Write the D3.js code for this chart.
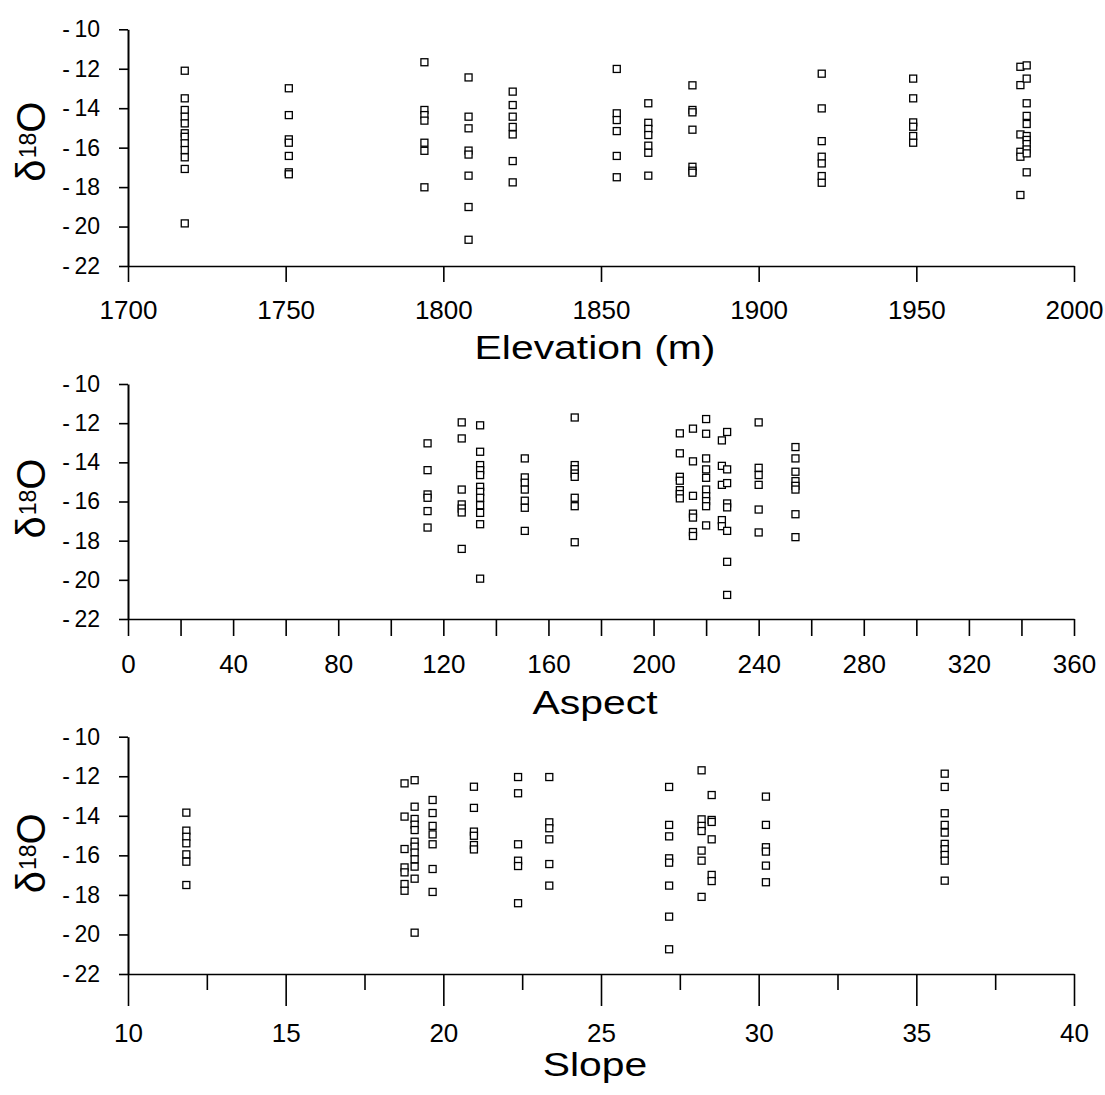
<!DOCTYPE html>
<html>
<head>
<meta charset="utf-8">
<script src="https://cdn.jsdelivr.net/npm/d3@7"></script>
<style>
  html, body { margin: 0; padding: 0; background: #fff; }
  svg { display: block; }
  text { font-family: "Liberation Sans", Arial, sans-serif; fill: #000; }
</style>
</head>
<body>
<svg id="chart" width="1105" height="1095"></svg>
<script>
// δ18O values grouped by sampling site, one inner list per site.
const ELEVATION_SITES = [1718, 1751, 1794, 1808, 1822, 1855, 1865, 1879, 1920, 1949, 1983, 1985];
const ELEVATION_D18O = [
  [-12.10, -13.50, -14.09, -14.43, -14.77, -15.27, -15.45, -15.78, -16.12, -16.49, -17.08, -19.84],
  [-12.99, -14.35, -15.58, -15.75, -16.42, -17.25, -17.35],
  [-11.67, -14.09, -14.35, -14.63, -15.75, -16.16, -18.01],
  [-12.44, -14.43, -15.02, -16.15, -16.35, -17.42, -19.01, -20.67],
  [-13.16, -13.84, -14.43, -14.95, -15.33, -16.68, -17.76],
  [-12.01, -14.26, -14.60, -15.16, -16.42, -17.50],
  [-13.75, -14.74, -15.05, -15.36, -15.90, -16.26, -17.42],
  [-12.84, -14.09, -14.21, -15.09, -16.97, -17.17, -17.27],
  [-12.25, -14.01, -15.67, -16.46, -16.80, -17.44, -17.78],
  [-12.50, -13.50, -14.72, -14.94, -15.41, -15.75],
  [-11.90, -12.83, -15.33, -16.21, -16.46, -18.40],
  [-11.83, -12.50, -13.75, -14.39, -14.80, -15.41, -15.61, -15.82, -16.09, -16.29, -17.25]
];

const ASPECT_SITES = [114, 127, 134, 151, 170, 210, 215, 220, 226, 228, 240, 254];
const ASPECT_D18O = [
  [-13.03, -14.40, -15.64, -15.81, -16.49, -17.33],
  [-11.96, -12.78, -15.39, -16.15, -16.36, -16.56, -18.42],
  [-12.11, -13.46, -14.14, -14.40, -14.65, -15.25, -15.51, -15.81, -16.19, -16.58, -17.16, -19.94],
  [-13.80, -14.77, -15.04, -15.39, -15.96, -16.32, -17.50],
  [-11.71, -14.14, -14.35, -14.57, -14.74, -15.81, -16.24, -18.08],
  [-12.52, -13.54, -14.74, -14.94, -15.42, -15.62, -15.84],
  [-12.28, -13.95, -15.71, -16.62, -16.82, -17.56, -17.76],
  [-11.79, -12.54, -13.80, -14.36, -14.79, -15.39, -15.73, -15.98, -16.24, -17.22],
  [-12.88, -14.18, -15.15, -16.95, -17.26],
  [-12.45, -14.36, -15.06, -16.10, -16.30, -17.50, -19.08, -20.77],
  [-11.96, -14.28, -14.65, -15.15, -16.41, -17.58],
  [-13.22, -13.80, -14.48, -14.96, -15.20, -15.39, -16.65, -17.82]
];

const SLOPE_SITES = [11.85, 18.77, 19.09, 19.66, 20.97, 22.37, 23.36, 27.16, 28.19, 28.51, 30.23, 35.90];
const SLOPE_D18O = [
  [-13.84, -14.75, -15.06, -15.39, -15.95, -16.32, -17.50],
  [-12.36, -14.04, -15.68, -16.61, -16.86, -17.45, -17.79],
  [-12.20, -13.54, -14.16, -14.45, -14.72, -15.31, -15.56, -15.86, -16.20, -16.57, -17.18, -19.91],
  [-13.20, -13.86, -14.51, -14.94, -15.44, -16.69, -17.85],
  [-12.53, -13.60, -14.80, -15.01, -15.48, -15.70],
  [-12.04, -12.86, -15.44, -16.27, -16.54, -18.42],
  [-12.04, -14.33, -14.63, -15.19, -16.44, -17.53],
  [-12.54, -14.46, -15.04, -16.15, -16.37, -17.53, -19.10, -20.75],
  [-11.70, -14.18, -14.51, -14.77, -15.76, -16.27, -18.10],
  [-12.95, -14.21, -14.31, -15.19, -16.99, -17.30],
  [-13.03, -14.46, -15.59, -15.81, -16.52, -17.36],
  [-11.87, -12.54, -13.87, -14.46, -14.85, -15.42, -15.69, -15.98, -16.27, -17.28]
];

// Tick values
const Y_TICKS = [-22, -20, -18, -16, -14, -12, -10];
const ELEVATION_TICKS = [1700, 1750, 1800, 1850, 1900, 1950, 2000];
const ASPECT_TICKS = [0, 20, 40, 60, 80, 100, 120, 140, 160, 180, 200, 220, 240, 260, 280, 300, 320, 340, 360];
const ASPECT_LABELLED = [0, 40, 80, 120, 160, 200, 240, 280, 320, 360];
const SLOPE_MAJOR_TICKS = [10, 15, 20, 25, 30, 35, 40];
const SLOPE_MINOR_TICKS = [12.5, 17.5, 22.5, 27.5, 32.5, 37.5];

const svg = d3.select("#chart");
const X_RANGE = [128, 1074];

const panels = [
  { title: "Elevation (m)", sites: ELEVATION_SITES, values: ELEVATION_D18O, domain: [1700, 2000],
    top: 29.3, bottom: 266, titleY: 359, titleDy: -6, pad: 19,
    major: ELEVATION_TICKS, majorLen: 16, labelled: ELEVATION_TICKS, minor: null },
  { title: "Aspect", sites: ASPECT_SITES, values: ASPECT_D18O, domain: [0, 360],
    top: 384, bottom: 619, titleY: 714, titleDy: -3, pad: 19,
    major: ASPECT_TICKS, majorLen: 17, labelled: ASPECT_LABELLED, minor: null },
  { title: "Slope", sites: SLOPE_SITES, values: SLOPE_D18O, domain: [10, 40],
    top: 736.7, bottom: 974, titleY: 1076, titleDy: -2, pad: 18,
    major: SLOPE_MAJOR_TICKS, majorLen: 32, labelled: SLOPE_MAJOR_TICKS, minor: SLOPE_MINOR_TICKS, minorLen: 16 }
];

const yFormat = d => (d < 0 ? "-\u2009" + Math.abs(d) : String(d));

function styleAxis(g, fontSize) {
  g.attr("font-family", null).attr("font-size", null);
  g.selectAll(".domain").attr("stroke", "#000").attr("stroke-width", 1.6);
  g.selectAll(".tick line").attr("stroke", "#000").attr("stroke-width", 1.6);
  g.selectAll(".tick text")
    .attr("fill", "#111")
    .style("font-family", "'Liberation Sans', Arial, sans-serif")
    .style("font-size", fontSize + "px");
}

panels.forEach(p => {
  const x = d3.scaleLinear().domain(p.domain).range(X_RANGE);
  const y = d3.scaleLinear().domain([-22, -10]).range([p.bottom, p.top]);
  const g = svg.append("g");

  // minor x ticks (no labels)
  if (p.minor) {
    const gm = g.append("g").attr("transform", `translate(0,${p.bottom})`)
      .call(d3.axisBottom(x).tickValues(p.minor).tickSize(p.minorLen).tickSizeOuter(0).tickFormat(() => ""));
    styleAxis(gm, 26);
    gm.select(".domain").remove();
  }

  // x axis
  const labelled = new Set(p.labelled);
  const gx = g.append("g").attr("transform", `translate(0,${p.bottom})`)
    .call(d3.axisBottom(x).tickValues(p.major).tickSize(p.majorLen).tickSizeOuter(0)
      .tickPadding(p.pad).tickFormat(d => labelled.has(d) ? String(d) : ""));
  styleAxis(gx, 26);

  // y axis
  const gy = g.append("g").attr("transform", `translate(${X_RANGE[0]},0)`)
    .call(d3.axisLeft(y).tickValues(Y_TICKS).tickSize(9).tickSizeOuter(0).tickPadding(19).tickFormat(yFormat));
  styleAxis(gy, 23);
  gy.select(".domain").attr("stroke-width", 2);

  // points
  const pts = [];
  p.sites.forEach((s, i) => p.values[i].forEach(v => pts.push({ s, v })));
  g.append("g").selectAll("rect").data(pts).join("rect")
    .attr("x", d => x(d.s) - 3.5)
    .attr("y", d => y(d.v) - 3.5)
    .attr("width", 7).attr("height", 7)
    .attr("fill", "#fff").attr("stroke", "#000").attr("stroke-width", 1.3);

  // x axis title
  g.append("text")
    .attr("transform", `translate(${(X_RANGE[0] + X_RANGE[1]) / 2 - 6},${p.titleY}) scale(1.24,1)`)
    .attr("text-anchor", "middle")
    .attr("fill", "#111")
    .style("font-size", "33px")
    .text(p.title);

  // y axis title: δ18O
  const cy = (p.top + p.bottom) / 2 + p.titleDy;
  const yt = g.append("text")
    .attr("transform", `translate(45,${cy}) rotate(-90)`)
    .attr("text-anchor", "middle")
    .attr("fill", "#111")
    .style("font-size", "40px");
  yt.append("tspan").text("δ");
  yt.append("tspan").attr("dy", -9).attr("dx", 1).style("font-size", "23px").text("18");
  yt.append("tspan").attr("dy", 9).text("O");
});
</script>
</body>
</html>
